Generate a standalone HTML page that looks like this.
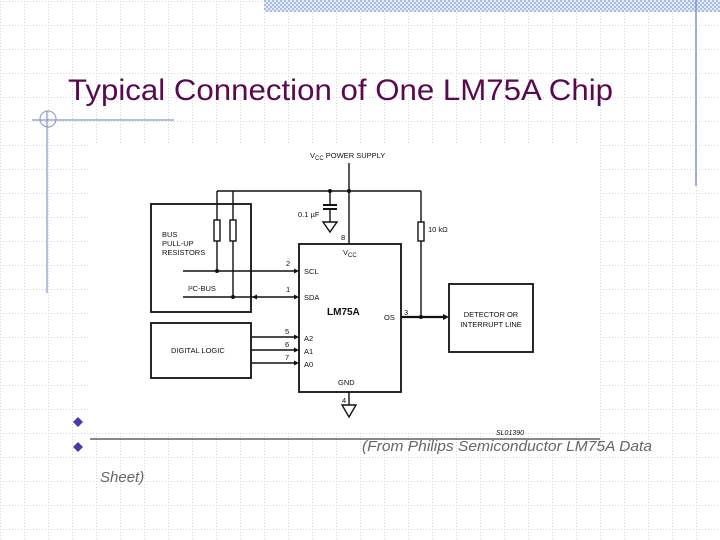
<!DOCTYPE html>
<html><head><meta charset="utf-8"><style>
html,body{margin:0;padding:0;background:#fff;width:720px;height:540px;overflow:hidden}
</style></head><body>
<svg width="720" height="540" viewBox="0 0 720 540" xmlns="http://www.w3.org/2000/svg" font-family="Liberation Sans, sans-serif">
<defs>
<pattern id="g" x="0" y="1" width="24" height="24" patternUnits="userSpaceOnUse">
<path d="M0 0.5H24M0.5 0V24" stroke="#d4d4d4" stroke-width="1" stroke-dasharray="1 2" fill="none"/>
</pattern>
<pattern id="chk" width="4" height="4" patternUnits="userSpaceOnUse">
<rect width="4" height="4" fill="#e4eaf6"/><rect width="2" height="2" fill="#a9bde2"/><rect x="2" y="2" width="2" height="2" fill="#a9bde2"/>
</pattern>
</defs>
<rect width="720" height="540" fill="url(#g)"/>
<rect x="264" y="0" width="456" height="12" fill="url(#chk)"/>
<line x1="696" y1="0" x2="696" y2="186" stroke="#8796c4" stroke-width="1.5"/>
<line x1="32" y1="120" x2="174" y2="120" stroke="#8796c4" stroke-width="1.2"/>
<line x1="47" y1="111" x2="47" y2="293" stroke="#8796c4" stroke-width="1.2"/>
<circle cx="48" cy="119" r="8" fill="none" stroke="#8796c4" stroke-width="1"/>
<text x="68" y="100" font-size="30" fill="#5a0850" textLength="545" lengthAdjust="spacingAndGlyphs">Typical Connection of One LM75A Chip</text>

<rect x="90" y="143" width="510" height="290" fill="#fff"/>
<g stroke="#111" fill="none" stroke-width="1.4">
<line x1="349" y1="163" x2="349" y2="244"/>
<line x1="217" y1="191" x2="421" y2="191"/>
<line x1="330" y1="191" x2="330" y2="205"/>
<line x1="323" y1="205" x2="337" y2="205" stroke-width="2"/>
<line x1="323" y1="209" x2="337" y2="209" stroke-width="2"/>
<line x1="330" y1="209" x2="330" y2="222"/>
<path d="M323 222H337L330 232Z"/>
<line x1="421" y1="191" x2="421" y2="222"/>
<rect x="418" y="222" width="6" height="19"/>
<line x1="421" y1="241" x2="421" y2="317"/>
<rect x="151" y="204" width="100" height="108" stroke-width="1.8"/>
<line x1="217" y1="191" x2="217" y2="220"/>
<rect x="214" y="220" width="6" height="21"/>
<line x1="217" y1="241" x2="217" y2="271"/>
<line x1="233" y1="191" x2="233" y2="220"/>
<rect x="230" y="220" width="6" height="21"/>
<line x1="233" y1="241" x2="233" y2="297"/>
<line x1="183" y1="271" x2="296" y2="271"/>
<line x1="183" y1="297" x2="296" y2="297"/>
<rect x="299" y="244" width="102" height="148" stroke-width="1.8"/>
<rect x="151" y="323" width="100" height="55" stroke-width="1.8"/>
<line x1="251" y1="337" x2="296" y2="337"/>
<line x1="251" y1="350" x2="296" y2="350"/>
<line x1="251" y1="363" x2="296" y2="363"/>
<line x1="401" y1="317" x2="446" y2="317" stroke-width="2.2"/>
<rect x="449" y="284" width="84" height="68" stroke-width="1.8"/>
<line x1="349" y1="392" x2="349" y2="405"/>
<path d="M342 405H356L349 417Z"/>
<line x1="90" y1="439" x2="600" y2="439" stroke-width="1"/>
</g>
<g fill="#111">
<circle cx="330" cy="191" r="2"/><circle cx="349" cy="191" r="2"/>
<circle cx="217" cy="271" r="2"/><circle cx="233" cy="297" r="2"/><circle cx="421" cy="317" r="2"/>
<path d="M299 271l-5-2.5v5z"/><path d="M299 297l-5-2.5v5z"/><path d="M252 297l5-2.5v5z"/>
<path d="M299 337l-5-2.5v5z"/><path d="M299 350l-5-2.5v5z"/><path d="M299 363l-5-2.5v5z"/>
<path d="M449 317l-6-3v6z"/>
</g>
<g font-size="7.5" fill="#111">
<text x="310" y="158">V<tspan font-size="6" dy="2">CC</tspan><tspan dy="-2"> POWER SUPPLY</tspan></text>
<text x="298" y="217">0.1 µF</text>
<text x="428" y="232">10 kΩ</text>
<text x="162" y="237">BUS</text><text x="162" y="246">PULL-UP</text><text x="162" y="255">RESISTORS</text>
<text x="188" y="291">I²C-BUS</text>
<text x="341" y="240">8</text><text x="286" y="266">2</text><text x="286" y="292">1</text>
<text x="285" y="334">5</text><text x="285" y="347">6</text><text x="285" y="360">7</text>
<text x="404" y="315">3</text><text x="342" y="403">4</text>
<text x="343" y="255">V<tspan font-size="6" dy="2">CC</tspan></text>
<text x="304" y="274">SCL</text><text x="304" y="300">SDA</text>
<text x="384" y="320">OS</text>
<text x="304" y="341">A2</text><text x="304" y="354">A1</text><text x="304" y="367">A0</text>
<text x="338" y="385">GND</text>
<text x="171" y="353">DIGITAL LOGIC</text>
<text x="491" y="317" text-anchor="middle">DETECTOR OR</text>
<text x="491" y="327" text-anchor="middle">INTERRUPT LINE</text>
<text x="327" y="315" font-size="10" font-weight="bold">LM75A</text>
<text x="496" y="435" font-size="7" font-style="italic">SL01390</text>
</g>
<g fill="#4a3aa8">
<path d="M78 417l5 5-5 5-5-5z"/><path d="M78 442l5 5-5 5-5-5z"/>
</g>
<g font-size="15" font-style="italic" fill="#666">
<text x="362" y="451" textLength="290" lengthAdjust="spacingAndGlyphs">(From Philips Semiconductor LM75A Data</text>
<text x="100" y="482">Sheet)</text>
</g>
</svg>
</body></html>
